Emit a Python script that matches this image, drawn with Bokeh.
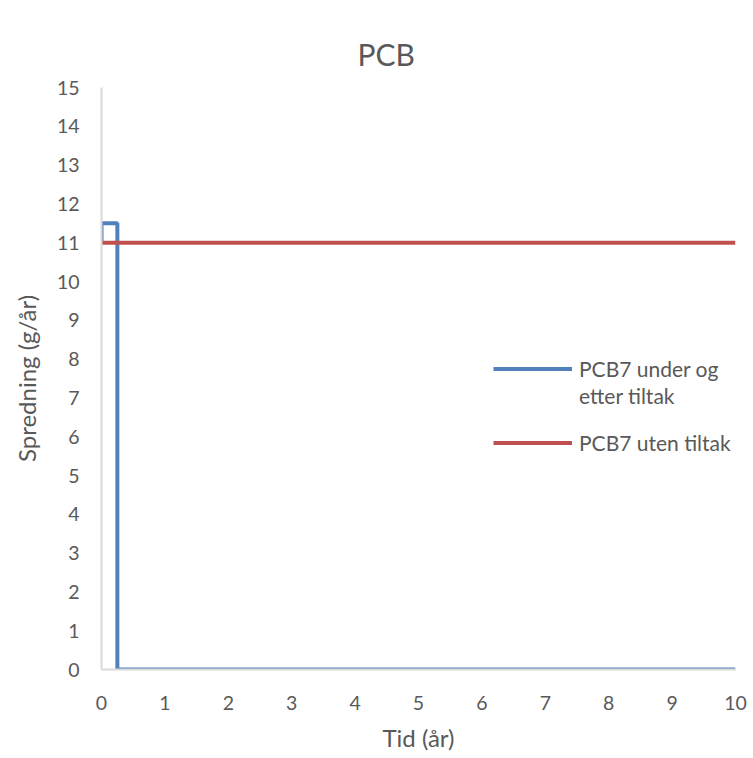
from bokeh.plotting import figure
from bokeh.models import Legend, LegendItem, Range1d, FixedTicker
from bokeh.embed import file_html
from bokeh.resources import INLINE

# data
x_blue = [0, 0, 0.25, 0.25, 10]
y_blue = [11, 11.5, 11.5, 0, 0]
x_red = [0, 10]
y_red = [11, 11]
x_ticks = list(range(0, 11))
y_ticks = list(range(0, 16))
label_blue_1 = "PCB7 under og"
label_blue_2 = "etter tiltak"
label_red = "PCB7 uten tiltak"

FONT = "Lato"
GRAY = "#595959"

p = figure(width=753, height=758, output_backend="svg", toolbar_location=None,
           x_range=Range1d(0, 10), y_range=Range1d(0, 15),
           min_border_left=101, min_border_right=18, min_border_top=87, min_border_bottom=89)

p.title.text = "PCB"
p.title.align = "left"
p.title.offset = 256
p.title.standoff = 31
p.title.text_font = FONT
p.title.text_font_size = "30px"
p.title.text_font_style = "normal"
p.title.text_color = GRAY

r_blue = p.line(x_blue, y_blue, line_color="#4f81bd", line_width=4)
r_red = p.line(x_red, y_red, line_color="#c0504d", line_width=4)
r_blank = p.line([], [], line_alpha=0)

p.xgrid.visible = False
p.ygrid.visible = False
p.outline_line_color = None

for ax in (p.xaxis[0], p.yaxis[0]):
    ax.major_tick_line_color = None
    ax.minor_tick_line_color = None
    ax.axis_line_color = "#d9d9d9"
    ax.axis_line_width = 2
    ax.major_label_text_font = FONT
    ax.major_label_text_font_size = "19.5px"
    ax.major_label_text_color = GRAY
    ax.axis_label_text_font = FONT
    ax.axis_label_text_font_size = "24px"
    ax.axis_label_text_font_style = "normal"
    ax.axis_label_text_color = GRAY

p.xaxis.ticker = FixedTicker(ticks=x_ticks)
p.yaxis.ticker = FixedTicker(ticks=y_ticks)
p.xaxis.axis_label = "Tid (år)"
p.yaxis.axis_label = "Spredning (g/år)"
p.xaxis.major_label_standoff = 20
p.yaxis.major_label_standoff = 16
p.xaxis.axis_label_standoff = 10
p.yaxis.axis_label_standoff = 13

common = dict(orientation="vertical", glyph_width=79, glyph_height=27, label_height=27,
              label_standoff=7, label_text_font=FONT, label_text_font_size="21px",
              label_text_color=GRAY, border_line_color=None, background_fill_alpha=0,
              padding=0, margin=0, spacing=0)

legend_a = Legend(items=[LegendItem(label=label_blue_1, renderers=[r_blue]),
                         LegendItem(label=label_blue_2, renderers=[r_blank])],
                  location=(392, 260), **common)
legend_b = Legend(items=[LegendItem(label=label_red, renderers=[r_red])],
                  location=(392, 213), **common)
p.add_layout(legend_a)
p.add_layout(legend_b)

open("out.html", "w").write(file_html(p, INLINE))
